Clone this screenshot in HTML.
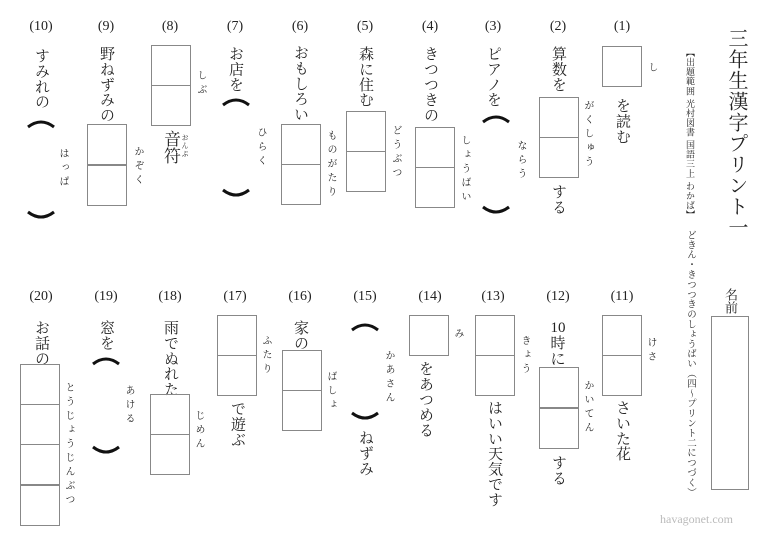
<!DOCTYPE html>
<html><head><meta charset="utf-8"><style>
body{margin:0;width:768px;height:543px;background:#fff;position:relative;overflow:hidden;font-family:"Liberation Serif","Noto Serif CJK SC",serif;color:#222}
.v{position:absolute;writing-mode:vertical-rl;font-size:15px;line-height:16px;letter-spacing:0.3px;width:16px;white-space:nowrap}
.f{position:absolute;writing-mode:vertical-rl;font-size:10px;line-height:10px;letter-spacing:4px;width:10px;white-space:nowrap}
.b{position:absolute;border:1.5px solid #888;box-sizing:border-box;width:40px;height:41px}
.n{position:absolute;width:40px;text-align:center;font-size:14px;top:19px}
</style></head><body>
<svg width="768" height="543" style="position:absolute;left:0;top:0" fill="none" stroke="#111" stroke-width="3">
<path d="M483 122 Q496 112 509 122"/><path d="M483 207 Q496 217 509 207"/>
<path d="M223 105 Q236 95 249 105"/><path d="M223 190 Q236 200 249 190"/>
<path d="M28 127 Q41 117 54 127"/><path d="M28 212 Q41 222 54 212"/>
<path d="M352 330 Q365 320 378 330"/><path d="M352 413 Q365 423 378 413"/>
<path d="M93 364 Q106 354 119 364"/><path d="M93 447 Q106 457 119 447"/>
</svg>
<div class="v" style="left:725px;top:28px;font-size:20px;line-height:22px;width:22px;letter-spacing:1px">三年生漢字プリント一</div>
<div class="f" style="left:685px;top:48px;font-size:9px;letter-spacing:0.6px">【出題範囲 光村図書 国語三上 わかば】</div>
<div class="f" style="left:685px;top:230px;font-size:9.5px;letter-spacing:0.4px">どきん・きつつきのしょうばい（四～プリント二につづく）</div>
<div class="v" style="left:721px;top:288px;font-size:13px;line-height:14px;letter-spacing:0">名前</div>
<div class="b" style="left:711px;top:316px;width:38px;height:174px"></div>
<div style="position:absolute;left:660px;top:512px;font-size:12px;color:#bbb">havagonet.com</div>

<div class="n" style="left:602px">(1)</div><div class="n" style="left:538px">(2)</div><div class="n" style="left:473px">(3)</div><div class="n" style="left:410px">(4)</div><div class="n" style="left:345px">(5)</div><div class="n" style="left:280px">(6)</div><div class="n" style="left:215px">(7)</div><div class="n" style="left:150px">(8)</div><div class="n" style="left:86px">(9)</div><div class="n" style="left:21px">(10)</div>
<div class="n" style="left:602px;top:289px">(11)</div><div class="n" style="left:538px;top:289px">(12)</div><div class="n" style="left:473px;top:289px">(13)</div><div class="n" style="left:410px;top:289px">(14)</div><div class="n" style="left:345px;top:289px">(15)</div><div class="n" style="left:280px;top:289px">(16)</div><div class="n" style="left:215px;top:289px">(17)</div><div class="n" style="left:150px;top:289px">(18)</div><div class="n" style="left:86px;top:289px">(19)</div><div class="n" style="left:21px;top:289px">(20)</div>

<div class="b" style="left:602px;top:46px"></div><div class="f" style="left:646px;top:62px">し</div><div class="v" style="left:614px;top:98px">を読む</div>
<div class="v" style="left:550px;top:46px">算数を</div><div class="b" style="left:539px;top:97px"></div><div class="b" style="left:539px;top:137px"></div><div class="f" style="left:582px;top:100px">がくしゅう</div><div class="v" style="left:550px;top:184px">する</div>
<div class="v" style="left:485px;top:46px">ピアノを</div><div class="f" style="left:515px;top:140px">ならう</div>
<div class="v" style="left:422px;top:46px">きつつきの</div><div class="b" style="left:415px;top:127px"></div><div class="b" style="left:415px;top:167px"></div><div class="f" style="left:459px;top:135px">しょうばい</div>
<div class="v" style="left:357px;top:46px">森に住む</div><div class="b" style="left:346px;top:111px"></div><div class="b" style="left:346px;top:151px"></div><div class="f" style="left:390px;top:125px">どうぶつ</div>
<div class="v" style="left:292px;top:45px">おもしろい</div><div class="b" style="left:281px;top:124px"></div><div class="b" style="left:281px;top:164px"></div><div class="f" style="left:325px;top:130px">ものがたり</div>
<div class="v" style="left:227px;top:46px">お店を</div><div class="f" style="left:255px;top:127px">ひらく</div>
<div class="b" style="left:151px;top:45px"></div><div class="b" style="left:151px;top:85px"></div><div class="f" style="left:195px;top:70px">しぶ</div><div class="v" style="left:161px;top:130px;font-size:17px;line-height:18px;width:18px;letter-spacing:0">音符</div><div class="f" style="left:181px;top:134px;font-size:7px;width:7px;line-height:7px;letter-spacing:1px">おんぷ</div>
<div class="v" style="left:98px;top:46px">野ねずみの</div><div class="b" style="left:87px;top:124px"></div><div class="b" style="left:87px;top:165px"></div><div class="f" style="left:132px;top:146px">かぞく</div>
<div class="v" style="left:33px;top:48px">すみれの</div><div class="f" style="left:57px;top:148px">はっぱ</div>

<div class="b" style="left:602px;top:315px"></div><div class="b" style="left:602px;top:355px"></div><div class="f" style="left:645px;top:337px">けさ</div><div class="v" style="left:614px;top:400px">さいた花</div>
<div style="position:absolute;left:544px;top:320px;width:28px;text-align:center;font-size:15px;line-height:16px">10<br>時<br>に</div><div class="b" style="left:539px;top:367px"></div><div class="b" style="left:539px;top:408px"></div><div class="f" style="left:582px;top:380px">かいてん</div><div class="v" style="left:550px;top:455px">する</div>
<div class="b" style="left:475px;top:315px"></div><div class="b" style="left:475px;top:355px"></div><div class="f" style="left:519px;top:335px">きょう</div><div class="v" style="left:486px;top:400px">はいい天気です</div>
<div class="b" style="left:409px;top:315px"></div><div class="f" style="left:452px;top:328px">み</div><div class="v" style="left:417px;top:361px">をあつめる</div>
<div class="f" style="left:383px;top:350px">かあさん</div><div class="v" style="left:357px;top:430px">ねずみ</div>
<div class="v" style="left:292px;top:320px">家の</div><div class="b" style="left:282px;top:350px"></div><div class="b" style="left:282px;top:390px"></div><div class="f" style="left:325px;top:371px">ばしょ</div>
<div class="b" style="left:217px;top:315px"></div><div class="b" style="left:217px;top:355px"></div><div class="f" style="left:260px;top:335px">ふたり</div><div class="v" style="left:229px;top:401px">で遊ぶ</div>
<div class="v" style="left:162px;top:320px">雨でぬれた</div><div class="b" style="left:150px;top:394px"></div><div class="b" style="left:150px;top:434px"></div><div class="f" style="left:193px;top:410px">じめん</div>
<div class="v" style="left:98px;top:320px">窓を</div><div class="f" style="left:123px;top:385px">あける</div>
<div class="v" style="left:33px;top:320px">お話の</div><div class="b" style="left:20px;top:364px"></div><div class="b" style="left:20px;top:404px"></div><div class="b" style="left:20px;top:444px"></div><div class="b" style="left:20px;top:485px"></div><div class="f" style="left:63px;top:382px;letter-spacing:4px">とうじょうじんぶつ</div>
</body></html>
